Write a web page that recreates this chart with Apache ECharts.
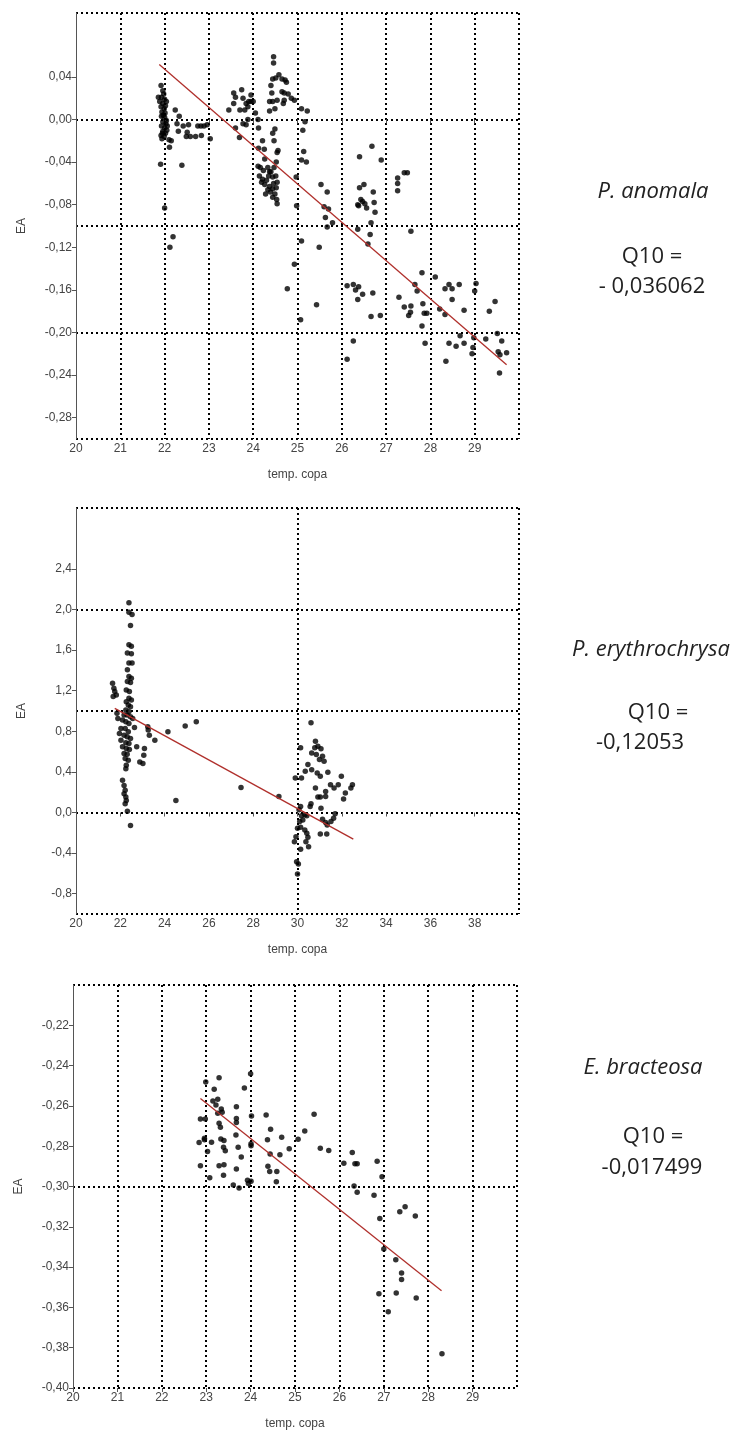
<!DOCTYPE html>
<html>
<head>
<meta charset="utf-8">
<script src="https://cdn.jsdelivr.net/npm/echarts@6/dist/echarts.min.js"></script>
<style>html,body{margin:0;padding:0;background:#fff}#c{width:746px;height:1431px}</style>
</head>
<body>
<div id="c"></div>
<script>
// ---------- DATA ----------
const xAxisTitle = 'temp. copa';
const yAxisTitle = 'EA';

// Panel 1: P. anomala  [temp, EA]
const anomalaPoints = [
[21.92,0.032],[21.96,0.027],[21.86,0.021],[21.93,0.021],[22.00,0.019],[21.89,0.017],[21.96,0.015],[22.04,0.017],[21.92,0.012],[21.99,0.010],[21.94,0.007],[22.01,0.006],[21.93,0.003],[22.00,0.002],[21.96,-0.002],[22.03,-0.004],[21.93,-0.006],[22.00,-0.008],[21.96,-0.011],[22.05,-0.010],[21.92,-0.015],[21.99,-0.016],[21.94,-0.018],[22.10,-0.019],[22.15,-0.020],[22.11,-0.026],[21.91,-0.042],[22.00,-0.083],[22.19,-0.110],[22.12,-0.120],[22.39,-0.043],[22.24,0.009],[22.33,0.003],[22.28,-0.004],[22.31,-0.011],[22.42,-0.006],[22.54,-0.005],[22.51,-0.012],[22.58,-0.016],[22.49,-0.016],[22.70,-0.016],[22.75,-0.006],[22.82,-0.006],[22.89,-0.006],[22.96,-0.005],[22.83,-0.015],[23.03,-0.018],
[21.98,0.024],[22.02,0.013],[21.97,0.004],[22.04,-0.001],[21.95,-0.013],[22.06,-0.006],[22.02,-0.013],
[23.45,0.009],[23.56,0.025],[23.60,0.021],[23.56,0.015],[23.74,0.028],[23.70,0.009],[23.77,0.020],[23.84,0.015],[23.90,0.017],[23.95,0.023],[23.95,0.017],[23.88,0.012],[23.81,0.009],[24.00,0.017],[23.88,0.000],[23.84,-0.005],[23.77,-0.004],[23.60,-0.008],[23.69,-0.017],[24.05,0.006],[24.12,-0.008],[24.11,0.000],
[24.21,-0.020],[24.12,-0.027],[24.25,-0.028],[24.26,-0.037],[24.11,-0.044],[24.16,-0.045],[24.23,-0.048],[24.33,-0.045],[24.40,-0.049],[24.14,-0.053],[24.21,-0.056],[24.30,-0.057],[24.35,-0.053],[24.44,-0.054],[24.51,-0.053],[24.19,-0.059],[24.26,-0.061],[24.37,-0.063],[24.46,-0.060],[24.54,-0.059],[24.28,-0.070],[24.39,-0.068],[24.44,-0.065],[24.49,-0.070],[24.53,-0.075],[24.54,-0.079],[24.44,-0.073],[24.33,-0.066],[24.52,-0.064],[24.47,-0.045],[24.52,-0.040],[24.54,-0.031],[24.56,-0.029],[24.47,-0.020],[24.44,-0.013],[24.49,-0.009],[24.37,-0.049],
[24.46,0.059],[24.46,0.053],[24.44,0.038],[24.51,0.039],[24.58,0.042],[24.65,0.038],[24.72,0.037],[24.75,0.035],[24.40,0.032],[24.42,0.025],[24.65,0.026],[24.70,0.025],[24.79,0.024],[24.86,0.020],[24.93,0.018],[24.37,0.017],[24.44,0.017],[24.54,0.018],[24.70,0.018],[24.37,0.008],[24.49,0.010],[24.68,0.015],
[25.09,0.010],[25.22,0.008],[25.17,-0.002],[25.12,-0.010],[25.14,-0.030],[25.09,-0.038],[25.20,-0.040],[24.97,-0.054],[24.98,-0.081],[25.09,-0.114],[24.93,-0.136],[24.77,-0.159],[25.07,-0.188],
[25.53,-0.061],[25.67,-0.068],[25.60,-0.082],[25.70,-0.084],[25.63,-0.092],[25.67,-0.101],[25.79,-0.097],[25.49,-0.120],[25.43,-0.174],
[26.68,-0.025],[26.40,-0.035],[26.89,-0.038],[26.40,-0.064],[26.50,-0.061],[26.43,-0.075],[26.47,-0.077],[26.36,-0.080],[26.52,-0.079],[26.56,-0.083],[26.71,-0.068],[26.73,-0.078],[26.75,-0.087],[26.66,-0.097],[26.64,-0.108],[26.36,-0.103],[26.59,-0.117],[26.38,-0.081],
[27.26,-0.055],[27.26,-0.060],[27.26,-0.067],[27.41,-0.050],[27.48,-0.050],[27.56,-0.105],
[26.12,-0.156],[26.26,-0.155],[26.38,-0.157],[26.31,-0.160],[26.47,-0.164],[26.36,-0.169],[26.70,-0.163],[26.66,-0.185],[26.87,-0.184],[26.26,-0.208],[26.12,-0.225],
[27.29,-0.167],[27.41,-0.176],[27.51,-0.184],[27.56,-0.175],[27.55,-0.181],[27.81,-0.144],[27.65,-0.155],[27.70,-0.161],[27.83,-0.173],[27.86,-0.182],[27.92,-0.182],[27.81,-0.194],[27.88,-0.210],[28.11,-0.148],[28.21,-0.178],[28.33,-0.183],[28.33,-0.159],[28.42,-0.155],[28.49,-0.159],[28.49,-0.169],[28.65,-0.155],[28.76,-0.179],[28.67,-0.203],[28.42,-0.210],[28.58,-0.213],[28.76,-0.210],[28.35,-0.227],[28.98,-0.205],[28.96,-0.214],[28.94,-0.220],[29.00,-0.161],[29.03,-0.154],[29.25,-0.206],[29.33,-0.180],[29.46,-0.171],[29.51,-0.201],[29.61,-0.208],[29.53,-0.218],[29.57,-0.221],[29.72,-0.219],[29.56,-0.238]
];
const anomalaFit = [[21.88,0.0516],[29.72,-0.2303]];
const anomalaYTicks = [-0.28,-0.24,-0.20,-0.16,-0.12,-0.08,-0.04,0.00,0.04];

// Panel 2: P. erythrochrysa
const erythroPoints = [
[22.39,2.066],[22.39,1.974],[22.53,1.950],[22.46,1.842],[22.39,1.653],[22.50,1.637],[22.32,1.571],[22.50,1.564],[22.39,1.472],[22.53,1.472],[22.32,1.406],[22.39,1.340],[22.50,1.323],[22.32,1.290],[22.46,1.281],[22.27,1.208],[22.41,1.191],[22.39,1.125],[22.50,1.109],[22.27,1.092],[22.36,1.059],[22.46,1.043],[22.25,1.010],[22.39,0.993],[22.17,0.960],[22.31,0.960],[22.46,0.944],[22.56,0.927],[22.64,0.838],[22.10,0.911],[22.25,0.894],[22.39,0.878],[22.03,0.828],[22.22,0.828],[22.36,0.795],[21.96,0.779],[22.17,0.762],[22.31,0.746],[22.46,0.729],[22.03,0.713],[22.25,0.686],[22.39,0.680],[22.10,0.647],[22.27,0.630],[22.41,0.620],[22.17,0.581],[22.31,0.574],[22.22,0.531],[22.36,0.515],[22.27,0.465],[22.25,0.432],[22.10,0.317],[22.17,0.267],[22.22,0.218],[22.17,0.185],[22.25,0.152],[22.27,0.119],[22.22,0.086],[22.32,0.013],[22.46,-0.129],
[21.65,1.274],[21.71,1.224],[21.75,1.191],[21.68,1.142],[21.82,1.158],[21.85,0.977],[21.89,0.927],
[22.74,0.647],[23.09,0.630],[23.06,0.564],[22.88,0.498],[23.02,0.482],[23.24,0.845],[23.26,0.812],[23.31,0.762],[23.56,0.713],[24.15,0.795],[24.93,0.851],[25.43,0.894],[24.51,0.119],[27.45,0.247],[29.16,0.158],
[30.61,0.884],[30.81,0.703],[30.92,0.653],[30.78,0.637],[31.06,0.627],[30.64,0.587],[30.85,0.571],[31.13,0.554],[30.99,0.521],[31.20,0.505],[30.14,0.637],[30.47,0.472],[30.35,0.406],[30.64,0.422],[30.89,0.389],[31.03,0.356],[31.37,0.396],[30.18,0.340],[29.90,0.340],[31.49,0.274],[31.65,0.241],[31.84,0.274],[31.98,0.356],[32.48,0.274],[32.41,0.241],[32.16,0.191],[32.08,0.132],[30.81,0.241],[30.92,0.152],[31.03,0.152],[31.27,0.158],[31.27,0.208],[30.57,0.059],[30.61,0.086],[31.06,0.043],[31.70,-0.013],[31.63,-0.056],[31.51,-0.089],[30.14,0.059],[30.07,0.026],[30.18,-0.033],[30.33,-0.023],[30.42,-0.033],[30.10,-0.089],[30.24,-0.073],[31.13,-0.066],[31.27,-0.099],[31.34,-0.122],[31.03,-0.211],[31.32,-0.211],[30.00,-0.155],[30.14,-0.145],[30.33,-0.172],[30.42,-0.205],[30.47,-0.244],[30.38,-0.287],[29.86,-0.287],[29.93,-0.238],[30.50,-0.337],[30.14,-0.363],[29.96,-0.485],[30.04,-0.508],[30.00,-0.607]
];
const erythroFit = [[21.75,1.026],[32.52,-0.263]];
const erythroYTicks = [-0.8,-0.4,0.0,0.4,0.8,1.2,1.6,2.0,2.4];

// Panel 3: E. bracteosa
const bracteosaPoints = [
[22.99,-0.2481],[23.29,-0.2460],[23.18,-0.2517],[24.00,-0.2440],[23.86,-0.2511],[23.26,-0.2567],[23.15,-0.2576],[23.22,-0.2596],[23.34,-0.2616],[23.36,-0.2632],[23.26,-0.2637],[23.68,-0.2604],[22.87,-0.2665],[22.98,-0.2665],[23.68,-0.2662],[23.68,-0.2683],[23.29,-0.2686],[23.32,-0.2706],[24.02,-0.2650],[24.35,-0.2645],[25.43,-0.2642],[25.22,-0.2724],[24.45,-0.2716],[24.70,-0.2755],[24.38,-0.2768],[25.07,-0.2765],[24.87,-0.2813],[25.57,-0.2810],[25.76,-0.2821],[22.84,-0.2782],[22.96,-0.2760],[22.96,-0.2768],[23.12,-0.2780],[23.33,-0.2764],[23.40,-0.2772],[23.67,-0.2744],[23.03,-0.2826],[23.39,-0.2805],[23.43,-0.2823],[23.72,-0.2805],[24.01,-0.2788],[24.01,-0.2798],[23.79,-0.2854],[24.44,-0.2839],[24.66,-0.2842],[22.87,-0.2897],[23.29,-0.2897],[23.40,-0.2892],[23.68,-0.2913],[24.39,-0.2900],[24.43,-0.2926],[24.59,-0.2926],[23.39,-0.2944],[23.08,-0.2957],[24.58,-0.2977],[23.61,-0.2993],[23.74,-0.3007],[23.93,-0.2969],[23.95,-0.2985],[24.01,-0.2974],[26.10,-0.2885],[26.29,-0.2831],[26.35,-0.2887],[26.40,-0.2887],[26.85,-0.2875],[26.96,-0.2952],[26.33,-0.2998],[26.40,-0.3028],[26.78,-0.3044],[26.91,-0.3159],[27.00,-0.3310],[27.36,-0.3125],[27.48,-0.3100],[27.71,-0.3146],[27.27,-0.3363],[27.40,-0.3429],[27.40,-0.3461],[26.89,-0.3532],[27.28,-0.3529],[27.73,-0.3553],[27.10,-0.3622],[28.31,-0.3830]
];
const bracteosaFit = [[22.87,-0.2563],[28.30,-0.3517]];
const bracteosaYTicks = [-0.40,-0.38,-0.36,-0.34,-0.32,-0.30,-0.28,-0.26,-0.24,-0.22];

const speciesNames = ['P. anomala','P. erythrochrysa','E. bracteosa'];
const q10Labels = ['Q10 =','Q10 =','Q10 ='];
const q10Values = ['- 0,036062','-0,12053','-0,017499'];

// ---------- LAYOUT ----------
const panels = [
  {grid:{left:76, top:13, width:443, height:426}, xMin:20, xMax:30, xLabelStep:1, xGridStep:1,
   yMin:-0.30, yMax:0.10, yGridStep:0.1, yTicks:anomalaYTicks, dec:2, pts:anomalaPoints, fit:anomalaFit},
  {grid:{left:76, top:508, width:443, height:406}, xMin:20, xMax:40, xLabelStep:2, xGridStep:10,
   yMin:-1.0, yMax:3.0, yGridStep:1, yTicks:erythroYTicks, dec:1, pts:erythroPoints, fit:erythroFit},
  {grid:{left:73, top:985, width:444, height:405}, xMin:20, xMax:30, xLabelStep:1, xGridStep:1,
   yMin:-0.40, yMax:-0.20, yGridStep:0.1, yTicks:bracteosaYTicks, dec:2, pts:bracteosaPoints, fit:bracteosaFit}
];

const labelFont = {fontFamily:'Liberation Sans, Arial, sans-serif', fontSize:12, color:'#444'};
const dotted = {color:'#000', width:2, type:[2,3]};
const grids=[], xAxes=[], yAxes=[], series=[];
panels.forEach((p,i)=>{
  grids.push(p.grid);
  xAxes.push({gridIndex:i, type:'value', min:p.xMin, max:p.xMax, interval:p.xLabelStep,
    name:xAxisTitle, nameLocation:'middle', nameGap:30, nameTextStyle:labelFont,
    axisLine:{show:false}, splitLine:{show:false},
    axisTick:{show:true, length:4, lineStyle:{color:'#555'}},
    axisLabel:Object.assign({margin:4, showMaxLabel:false, formatter:v=> v===p.xMax?'':String(v)}, labelFont)});
  xAxes.push({gridIndex:i, type:'value', min:p.xMin, max:p.xMax, interval:p.xGridStep,
    axisLine:{show:false}, axisTick:{show:false}, axisLabel:{show:false},
    splitLine:{show:true, showMinLine:false, lineStyle:dotted}});
  yAxes.push({gridIndex:i, type:'value', min:p.yMin, max:p.yMax,
    name:yAxisTitle, nameLocation:'middle', nameGap:48, nameTextStyle:labelFont,
    axisLine:{show:true, lineStyle:{color:'#555', width:1}},
    splitLine:{show:false},
    axisTick:{show:true, length:4, customValues:p.yTicks, lineStyle:{color:'#555'}},
    axisLabel:Object.assign({margin:4, customValues:p.yTicks,
      formatter:v=> (Math.abs(v)<1e-9?0:v).toFixed(p.dec).replace('.',',')}, labelFont)});
  yAxes.push({gridIndex:i, type:'value', min:p.yMin, max:p.yMax, interval:p.yGridStep,
    axisLine:{show:false}, axisTick:{show:false}, axisLabel:{show:false},
    splitLine:{show:true, lineStyle:dotted}});
  series.push({type:'scatter', xAxisIndex:2*i, yAxisIndex:2*i, data:p.pts,
    symbol:'circle', symbolSize:5.5, itemStyle:{color:'#000'}, z:3});
  series.push({type:'line', xAxisIndex:2*i, yAxisIndex:2*i, data:p.fit, showSymbol:false,
    lineStyle:{color:'#b0302c', width:1.3}, z:4});
});

const txt = (x,y,t,opt)=>Object.assign({type:'text', x:x, y:y,
  style:Object.assign({text:t, fontFamily:'Open Sans, sans-serif', fontSize:22, fill:'#222',
  align:'center', verticalAlign:'middle'}, opt||{})});
const graphic = [
  txt(653,192,speciesNames[0],{fontStyle:'italic'}),
  txt(652,257,q10Labels[0]), txt(652,287,q10Values[0]),
  txt(572,650,speciesNames[1],{fontStyle:'italic', align:'left'}),
  txt(658,713,q10Labels[1]), txt(640,743,q10Values[1]),
  txt(643,1068,speciesNames[2],{fontStyle:'italic'}),
  txt(653,1137,q10Labels[2]), txt(652,1168,q10Values[2])
];

const chart = echarts.init(document.getElementById('c'), null, {renderer:'canvas'});
chart.setOption({animation:false, backgroundColor:'#fff', grid:grids, xAxis:xAxes, yAxis:yAxes, series:series, graphic:graphic});
</script>
</body>
</html>
